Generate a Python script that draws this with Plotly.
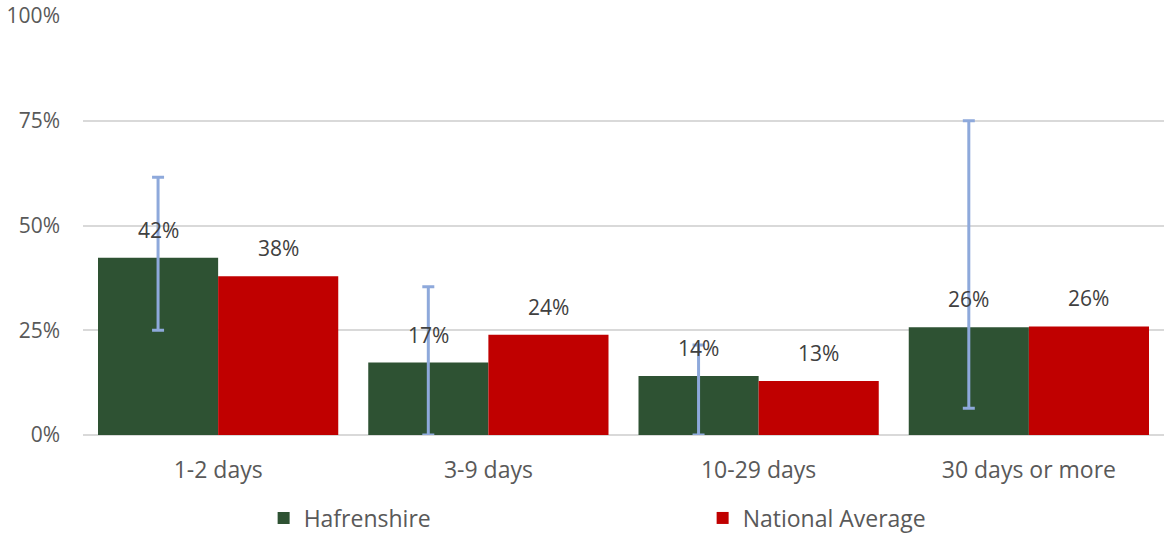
import plotly.graph_objects as go

# Length of stay categories
categories = ["1-2 days", "3-9 days", "10-29 days", "30 days or more"]

# Share of stays in each band
hafrenshire = [0.423, 0.173, 0.141, 0.257]
national_average = [0.379, 0.239, 0.129, 0.259]

# Confidence interval bounds for Hafrenshire
ci_upper = [0.615, 0.354, 0.215, 0.750]
ci_lower = [0.250, 0.000, 0.000, 0.064]

y_tick_values = [0, 0.25, 0.5, 0.75, 1.0]
y_tick_labels = ["0%", "25%", "50%", "75%", "100%"]

GREEN = "#2E5233"
RED = "#C00000"
ERR = "#8EA9DB"
AXIS_TEXT = "#595959"
LABEL_TEXT = "#404040"
FONT = "Open Sans"

err_plus = [u - v for u, v in zip(ci_upper, hafrenshire)]
err_minus = [v - l for v, l in zip(hafrenshire, ci_lower)]

fig = go.Figure()
fig.add_trace(go.Bar(
    name="Hafrenshire",
    x=categories,
    y=hafrenshire,
    marker=dict(color=GREEN, line=dict(width=0)),
    error_y=dict(type="data", symmetric=False, array=err_plus,
                 arrayminus=err_minus, color=ERR, thickness=3, width=6),
))
fig.add_trace(go.Bar(
    name="National Average",
    x=categories,
    y=national_average,
    marker=dict(color=RED, line=dict(width=0)),
))

# Value labels above each bar
for series, shift in ((hafrenshire, -60), (national_average, 60)):
    for cat, val in zip(categories, series):
        fig.add_annotation(
            x=cat, y=val, xref="x", yref="y",
            text=f"{round(val * 100)}%",
            showarrow=False, yanchor="bottom", xanchor="center",
            xshift=shift, yshift=12,
            font=dict(family=FONT, size=21, color=LABEL_TEXT),
        )

fig.update_layout(
    width=1167, height=534,
    margin=dict(l=83, r=3, t=16, b=99, autoexpand=False),
    paper_bgcolor="white", plot_bgcolor="white",
    barmode="group", bargap=0.111, bargroupgap=0,
    font=dict(family=FONT, size=22, color=AXIS_TEXT),
    showlegend=True,
    legend=dict(
        orientation="h", x=0.5732, xanchor="center",
        y=16 / 534, yanchor="middle", yref="container",
        xref="paper", entrywidth=394, entrywidthmode="pixels",
        font=dict(family=FONT, size=23, color=AXIS_TEXT),
        itemsizing="constant", traceorder="normal",
    ),
)
fig.update_xaxes(
    showgrid=False, showline=False, zeroline=False, ticks="",
    ticklabelstandoff=19, automargin=False,
    tickfont=dict(family=FONT, size=23, color=AXIS_TEXT),
)
fig.update_yaxes(
    range=[0, 1], tickvals=y_tick_values, ticktext=y_tick_labels,
    showgrid=True, gridcolor="#D9D9D9", gridwidth=2,
    zeroline=True, zerolinecolor="#D9D9D9", zerolinewidth=2,
    showline=False, ticks="", ticklabelstandoff=22, automargin=False,
    tickfont=dict(family=FONT, size=21, color=AXIS_TEXT),
)

fig.write_html("out.html")
